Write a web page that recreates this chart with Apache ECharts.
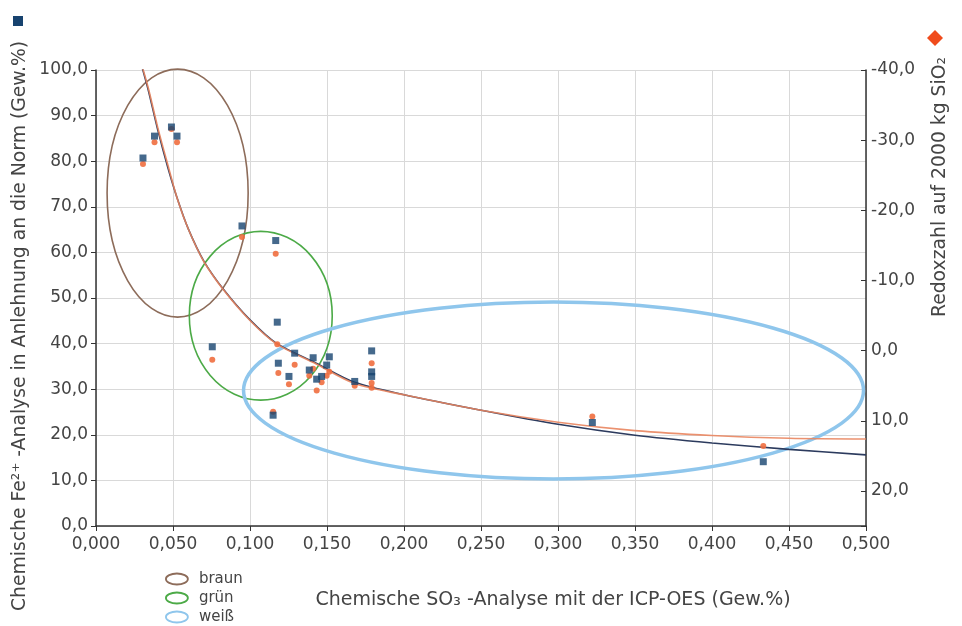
<!DOCTYPE html>
<html>
<head>
<meta charset="utf-8">
<script src="https://cdn.jsdelivr.net/npm/echarts@6/dist/echarts.min.js"></script>
<style>
html,body{margin:0;padding:0;background:#fff;}
#chart{width:962px;height:626px;}
</style>
</head>
<body>
<div id="chart"></div>
<script>
// ---- data ----
var so3 =   [0.0305, 0.038, 0.049, 0.0526, 0.0948, 0.0755, 0.1167, 0.1177, 0.1184, 0.115, 0.1253, 0.129, 0.1385, 0.141, 0.1433, 0.1465, 0.1498, 0.1515, 0.168, 0.179, 0.179, 0.179, 0.3223, 0.4333];
var fe2 =   [80.7, 85.5, 87.5, 85.5, 65.8, 39.3, 62.6, 44.7, 35.7, 24.3, 32.8, 37.9, 34.2, 36.9, 32.2, 32.8, 35.3, 37.1, 31.7, 38.4, 33.8, 32.8, 22.7, 14.1];
var redox = [-26.6, -29.7, -31.6, -29.7, -16.2, 1.3, -13.8, -0.9, 3.2, 8.7, 4.8, 2.0, 3.6, 2.6, 5.7, 4.5, 3.6, 3.0, 5.0, 1.8, 4.6, 5.3, 9.4, 13.6];

var feTrendX = [0.030, 0.034, 0.040, 0.0465, 0.053, 0.060, 0.070, 0.083, 0.100, 0.117, 0.143, 0.168, 0.200, 0.250, 0.300, 0.350, 0.400, 0.450, 0.500];
var feTrendY = [100.5, 95.5, 87.0, 78.8, 71.6, 65.1, 58.1, 51.8, 45.2, 40.1, 35.7, 31.5, 28.8, 25.4, 22.3, 19.9, 18.2, 16.8, 15.6];
var redoxTrendX = [0.030, 0.034, 0.040, 0.0465, 0.053, 0.060, 0.070, 0.083, 0.100, 0.117, 0.143, 0.168, 0.200, 0.250, 0.300, 0.350, 0.400, 0.450, 0.500];
var redoxTrendY = [-40.5, -37.4, -31.9, -26.6, -21.5, -17.3, -12.7, -8.6, -4.3, -1.0, 1.9, 4.7, 6.3, 8.5, 10.2, 11.4, 12.1, 12.5, 12.6];

// ellipses: centre x, centre y (left axis), half width, half height (data units)
var ellipseNames = ['braun', 'grün', 'weiß'];
var ellipseCX = [0.0530, 0.1070, 0.2971];
var ellipseCY = [73.0, 46.1, 29.7];
var ellipseRX = [0.0458, 0.0464, 0.2013];
var ellipseRY = [27.2, 18.5, 19.4];

// ---- styles ----
var FONT = 'DejaVu Sans';
var ellipseColors = ['#8d6c5a', '#4caa47', '#8fc6ec'];
var ellipseWidths = [1.6, 1.6, 3.5];
var NAVY = '#17436f';
var ORANGE = '#ef6e3f';

function comma(v, d) { return v.toFixed(d).replace('.', ','); }

var chart = echarts.init(document.getElementById('chart'), null, {renderer: 'canvas'});

var scatterFe = so3.map(function (x, i) { return [x, fe2[i]]; });
var scatterRedox = so3.map(function (x, i) { return [x, redox[i]]; });
var feTrend = feTrendX.map(function (x, i) { return [x, feTrendY[i]]; });
var redoxTrend = redoxTrendX.map(function (x, i) { return [x, redoxTrendY[i]]; });

var ellipseSeries = ellipseNames.map(function (name, i) {
  return {
    name: name,
    type: 'custom',
    xAxisIndex: 0, yAxisIndex: 0,
    coordinateSystem: 'cartesian2d',
    clip: false,
    silent: true,
    z: 1,
    itemStyle: {color: ellipseColors[i]},
    data: [[ellipseCX[i], ellipseCY[i], ellipseRX[i], ellipseRY[i]]],
    renderItem: function (params, api) {
      var c = api.coord([api.value(0), api.value(1)]);
      var s = api.size([api.value(2), api.value(3)]);
      var rx = s[0], ry = s[1];
      var d = 'M' + (c[0] - rx) + ',' + c[1] +
              ' A' + rx + ',' + ry + ' 0 1,0 ' + (c[0] + rx) + ',' + c[1] +
              ' A' + rx + ',' + ry + ' 0 1,0 ' + (c[0] - rx) + ',' + c[1] + ' Z';
      return {
        type: 'path',
        shape: {pathData: d},
        style: {fill: null, stroke: ellipseColors[i], lineWidth: ellipseWidths[i]}
      };
    }
  };
});

var option = {
  animation: false,
  backgroundColor: '#fff',
  grid: {left: 96, right: 96, top: 70, bottom: 100, containLabel: false},
  legend: {
    orient: 'vertical',
    left: 165, top: 571,
    padding: 0,
    itemWidth: 22, itemHeight: 11, itemGap: 3,
    icon: 'path://M0,5 A10,5 0 1,1 20,5 A10,5 0 1,1 0,5 Z',
    textStyle: {fontFamily: FONT, fontSize: 15, lineHeight: 16, color: '#444', padding: [0, 0, 0, 6]},
    data: ellipseNames.map(function (n, i) {
      return {name: n, itemStyle: {color: 'transparent', borderColor: ellipseColors[i], borderWidth: 1.8}};
    }),
    selectedMode: false
  },
  xAxis: {
    type: 'value',
    min: 0, max: 0.5, interval: 0.05,
    axisLine: {show: true, onZero: false, lineStyle: {color: '#333', width: 1.5}},
    axisTick: {show: true, length: 5, lineStyle: {color: '#333'}},
    axisLabel: {fontFamily: FONT, fontSize: 17, color: '#444', margin: 10,
      formatter: function (v) { return comma(v, 3); }},
    splitLine: {show: true, lineStyle: {color: '#d9d9d9', width: 1}}
  },
  yAxis: [{
    type: 'value',
    min: 0, max: 100, interval: 10,
    axisLine: {show: true, onZero: false, lineStyle: {color: '#333', width: 1.5}},
    axisTick: {show: true, length: 5, lineStyle: {color: '#333'}},
    axisLabel: {fontFamily: FONT, fontSize: 17, color: '#444', margin: 8,
      formatter: function (v) { return comma(v, 1); }},
    splitLine: {show: true, lineStyle: {color: '#d9d9d9', width: 1}}
  }, {
    type: 'value',
    position: 'right',
    inverse: true,
    min: -40, max: 25, interval: 10,
    axisLine: {show: true, onZero: false, lineStyle: {color: '#333', width: 1.5}},
    axisTick: {show: true, length: 5, inside: true, lineStyle: {color: '#333'}},
    axisLabel: {fontFamily: FONT, fontSize: 17, color: '#444', margin: 5,
      formatter: function (v) { return (Math.abs(v % 10) < 1e-9) ? comma(v, 1) : ''; }},
    splitLine: {show: false}
  }],
  series: ellipseSeries.concat([
    {
      name: 'feTrend', type: 'line', xAxisIndex: 0, yAxisIndex: 0,
      data: feTrend, smooth: 0.3, showSymbol: false, symbol: 'none',
      lineStyle: {color: '#2c3b5e', width: 1.6}, z: 3, silent: true
    },
    {
      name: 'redoxTrend', type: 'line', xAxisIndex: 0, yAxisIndex: 1,
      data: redoxTrend, smooth: 0.3, showSymbol: false, symbol: 'none',
      lineStyle: {color: '#e9855f', width: 1.6, opacity: 0.9}, z: 4, silent: true
    },
    {
      name: 'redox', type: 'scatter', xAxisIndex: 0, yAxisIndex: 1,
      data: scatterRedox, symbol: 'circle', symbolSize: 6,
      itemStyle: {color: ORANGE, opacity: 0.9}, z: 5
    },
    {
      name: 'fe', type: 'scatter', xAxisIndex: 0, yAxisIndex: 0,
      data: scatterFe, symbol: 'rect', symbolSize: 7,
      itemStyle: {color: NAVY}, z: 6
    }
  ]),
  graphic: [
    {type: 'rect', left: 13, top: 16, shape: {width: 10, height: 10}, style: {fill: NAVY}},
    {type: 'polygon', shape: {points: [[935, 30], [943, 38], [935, 46], [927, 38]]}, style: {fill: '#f04b1c'}},
    {type: 'text', x: 20, y: 326, rotation: Math.PI / 2,
      style: {text: 'Chemische Fe²⁺ -Analyse in Anlehnung an die Norm (Gew.%)', font: '18.8px "DejaVu Sans"',
        fill: '#444', textAlign: 'center', textVerticalAlign: 'middle'}},
    {type: 'text', x: 940, y: 187, rotation: Math.PI / 2,
      style: {text: 'Redoxzahl auf 2000 kg SiO₂', font: '18.8px "DejaVu Sans"',
        fill: '#444', textAlign: 'center', textVerticalAlign: 'middle'}},
    {type: 'text', x: 553, y: 600,
      style: {text: 'Chemische SO₃ -Analyse mit der ICP-OES (Gew.%)', font: '19px "DejaVu Sans"',
        fill: '#444', textAlign: 'center', textVerticalAlign: 'middle'}}
  ]
};
chart.setOption(option);
</script>
</body>
</html>
